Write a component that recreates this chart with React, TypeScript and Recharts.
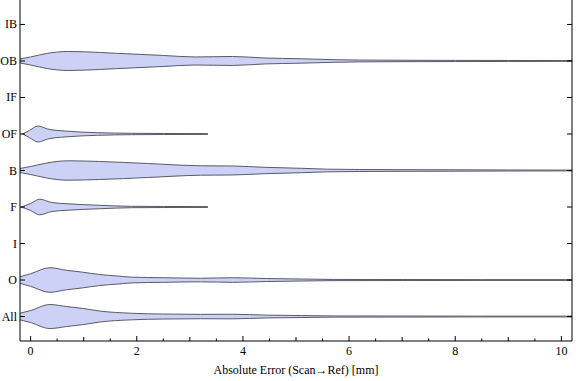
import { ComposedChart, Area, XAxis, YAxis } from 'recharts'

const FONT = '"Liberation Serif", "Times New Roman", serif'

// y positions 1..9, bottom to top
const categories = ['All', 'O', 'I', 'F', 'B', 'OF', 'IF', 'OB', 'IB']
const yTicks = [1, 2, 3, 4, 5, 6, 7, 8, 9]
const xTicks = [0, 0.5, 1, 1.5, 2, 2.5, 3, 3.5, 4, 4.5, 5, 5.5, 6, 6.5, 7, 7.5, 8, 8.5, 9, 9.5, 10]

// half widths of each violin, in category units
const obX = [-0.2, 0, 0.3, 0.7, 1.0, 1.6, 2.5, 3.1, 3.8, 4.4, 5.1, 5.7, 6.2, 7, 8, 9, 10.2]
const obW = [0.055, 0.11, 0.205, 0.26, 0.252, 0.211, 0.151, 0.11, 0.123, 0.082, 0.06, 0.036, 0.025, 0.019, 0.016, 0.014, 0.011]

const ofX = [-0.15, -0.02, 0.14, 0.32, 0.64, 1.26, 1.9, 2.5, 3.34]
const ofW = [0, 0.101, 0.219, 0.137, 0.082, 0.036, 0.019, 0.014, 0.011]

const bX = [-0.2, 0, 0.3, 0.7, 1.3, 2.2, 3.2, 3.8, 4.4, 5.1, 5.6, 6.2, 7, 8, 9, 10.2]
const bW = [0.055, 0.11, 0.205, 0.266, 0.247, 0.192, 0.129, 0.123, 0.088, 0.06, 0.036, 0.027, 0.022, 0.019, 0.014, 0.011]

const fX = [-0.18, 0, 0.17, 0.4, 0.68, 1.3, 1.9, 2.5, 3.34]
const fW = [0, 0.096, 0.214, 0.123, 0.09, 0.047, 0.019, 0.014, 0.011]

const oX = [-0.2, 0, 0.36, 0.68, 0.96, 1.3, 1.6, 1.9, 2.5, 3.2, 3.8, 4.45, 5.1, 5.7, 7, 8.5, 10.2]
const oW = [0.09, 0.173, 0.337, 0.266, 0.219, 0.151, 0.115, 0.079, 0.063, 0.049, 0.063, 0.041, 0.027, 0.016, 0.014, 0.011, 0.011]

const allX = [-0.2, 0, 0.36, 0.68, 1.0, 1.3, 1.9, 2.5, 3.2, 3.8, 4.45, 5.1, 5.7, 7, 8.5, 10.2]
const allW = [0.09, 0.164, 0.329, 0.274, 0.219, 0.151, 0.09, 0.068, 0.06, 0.063, 0.038, 0.027, 0.016, 0.014, 0.011, 0.011]

const violins = [
    { key: 'OB', xs: obX, ws: obW },
    { key: 'OF', xs: ofX, ws: ofW },
    { key: 'B', xs: bX, ws: bW },
    { key: 'F', xs: fX, ws: fW },
    { key: 'O', xs: oX, ws: oW },
    { key: 'All', xs: allX, ws: allW },
]

const allXs = Array.from(new Set(violins.flatMap(v => v.xs))).sort((a, b) => a - b)
const data = allXs.map(x => {
    const row: Record<string, any> = { x }
    violins.forEach(v => {
        const pos = categories.indexOf(v.key) + 1
        const i = v.xs.indexOf(x)
        row[v.key] = i >= 0 ? [pos - v.ws[i], pos + v.ws[i]] : null
    })
    return row
})

const tickLen = (v: number) => (v % 2 === 0 ? 5 : v % 1 === 0 ? 4 : 2.5)

function BottomTick(props: any) {
    const { x, y, payload } = props
    const v = payload.value
    return (
        <g>
            <line x1={x} x2={x} y1={y} y2={y - tickLen(v)} stroke="#000" />
            {v % 2 === 0 && (
                <text x={x} y={y + 14} textAnchor="middle" fontSize={12} fontFamily={FONT} fill="#000">{v}</text>
            )}
        </g>
    )
}

function TopTick(props: any) {
    const { x, y, payload } = props
    return <line x1={x} x2={x} y1={y} y2={y + tickLen(payload.value)} stroke="#000" />
}

function LeftTick(props: any) {
    const { x, y, payload } = props
    return (
        <g>
            <line x1={x} x2={x + 5} y1={y} y2={y} stroke="#000" />
            <text x={x - 3} y={y + 4} textAnchor="end" fontSize={12} fontFamily={FONT} fill="#000">
                {categories[payload.value - 1]}
            </text>
        </g>
    )
}

function RightTick(props: any) {
    const { x, y } = props
    return <line x1={x} x2={x - 5} y1={y} y2={y} stroke="#000" />
}

export default function App() {
    return (
        <div style={{ position: 'absolute', left: 0, top: 0, background: '#fff' }}>
            <ComposedChart width={576} height={381} data={data} margin={{ top: 0, right: 0, bottom: 0, left: 0 }}>
                <XAxis
                    xAxisId="b" dataKey="x" type="number" domain={[-0.2, 10.2]} allowDataOverflow
                    ticks={xTicks} interval={0} tickSize={0} tickMargin={0} tickLine={false}
                    tick={<BottomTick />} height={40} stroke="#000"
                    label={{ value: 'Absolute Error (Scan\u2192Ref) [mm]', position: 'insideBottom', offset: 7, fill: '#000', fontSize: 12, fontFamily: FONT }}
                />
                <XAxis
                    xAxisId="t" orientation="top" dataKey="x" type="number" domain={[-0.2, 10.2]} allowDataOverflow
                    ticks={xTicks} interval={0} tickSize={0} tickMargin={0} tickLine={false}
                    tick={<TopTick />} height={0} axisLine={false}
                />
                <YAxis
                    yAxisId="l" type="number" domain={[0.33, 9.67]} allowDataOverflow
                    ticks={yTicks} interval={0} tickSize={0} tickMargin={0} tickLine={false}
                    tick={<LeftTick />} width={20} stroke="#000"
                />
                <YAxis
                    yAxisId="r" orientation="right" type="number" domain={[0.33, 9.67]} allowDataOverflow
                    ticks={yTicks} interval={0} tickSize={0} tickMargin={0} tickLine={false}
                    tick={<RightTick />} width={4} stroke="#000"
                />
                {violins.map(v => (
                    <Area
                        key={v.key}
                        xAxisId="b"
                        yAxisId="l"
                        dataKey={v.key}
                        type="monotone"
                        connectNulls
                        fill="#ccd1f5"
                        fillOpacity={1}
                        stroke="#5a5a68"
                        strokeWidth={1}
                        dot={false}
                        activeDot={false}
                        isAnimationActive={false}
                    />
                ))}
            </ComposedChart>
        </div>
    )
}
